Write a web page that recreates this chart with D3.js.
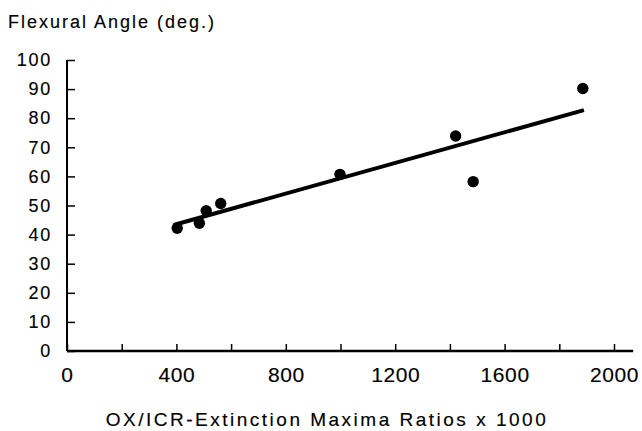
<!DOCTYPE html>
<html>
<head>
<meta charset="utf-8">
<script src="https://cdn.jsdelivr.net/npm/d3@7"></script>
<style>
  body { margin: 0; background: #fff; }
  text { font-family: "Liberation Sans", Arial, sans-serif; fill: #000; stroke: #000; stroke-width: 0.15px; }
</style>
</head>
<body>
<script>
// measured points (ratio x 1000, flexural angle in degrees)
var ratios = [403, 484, 509, 562, 998, 1421, 1485, 1886];
var angles = [42.2, 43.9, 48.2, 50.7, 60.7, 73.9, 58.2, 90.2];

// fitted line, as drawn: start and end
var fitX = [390, 1890];
var fitY = [43.3, 82.8];

var xTicks = [0, 200, 400, 600, 800, 1000, 1200, 1400, 1600, 1800, 2000];
var xLabels = [0, 400, 800, 1200, 1600, 2000];
var yTicks = [0, 10, 20, 30, 40, 50, 60, 70, 80, 90, 100];

var width = 642, height = 431;

var x = d3.scaleLinear().domain([0, 2000]).range([67, 614]);
var y = d3.scaleLinear().domain([0, 100]).range([351, 60]);

var svg = d3.select("body").append("svg")
  .attr("width", width)
  .attr("height", height);

var xAxis = d3.axisBottom(x)
  .tickValues(xTicks)
  .tickSizeInner(-7)
  .tickSizeOuter(0)
  .tickPadding(16)
  .tickFormat(function(d) { return xLabels.indexOf(d) >= 0 ? d : ""; });

var yAxis = d3.axisLeft(y)
  .tickValues(yTicks)
  .tickSizeInner(-8)
  .tickSizeOuter(0)
  .tickPadding(15);

var gx = svg.append("g")
  .attr("transform", "translate(0," + y(0) + ")")
  .call(xAxis);
gx.select(".domain").remove();
gx.selectAll(".tick line").attr("stroke", "#000").attr("stroke-width", 1.5);
gx.selectAll(".tick text")
  .attr("font-size", 21)
  .style("letter-spacing", "0.6px")
  .style("font-family", "'Liberation Sans', Arial, sans-serif");

var gy = svg.append("g")
  .attr("transform", "translate(" + x(0) + ",0)")
  .call(yAxis);
gy.select(".domain").remove();
gy.selectAll(".tick line").attr("stroke", "#000").attr("stroke-width", 1.5);
gy.selectAll(".tick text")
  .attr("font-size", 18)
  .style("letter-spacing", "1.7px")
  .style("font-family", "'Liberation Sans', Arial, sans-serif");

// axis lines
svg.append("line")
  .attr("x1", x(0)).attr("x2", x(2070))
  .attr("y1", y(0)).attr("y2", y(0))
  .attr("stroke", "#000").attr("stroke-width", 2.5);
svg.append("line")
  .attr("x1", x(0)).attr("x2", x(0))
  .attr("y1", y(0)).attr("y2", y(100))
  .attr("stroke", "#000").attr("stroke-width", 2);

// fitted line
svg.append("line")
  .attr("x1", x(fitX[0])).attr("y1", y(fitY[0]))
  .attr("x2", x(fitX[1])).attr("y2", y(fitY[1]))
  .attr("stroke", "#000")
  .attr("stroke-width", 4);

// points
svg.selectAll(".pt")
  .data(ratios)
  .enter().append("circle")
  .attr("class", "pt")
  .attr("cx", function(d) { return x(d); })
  .attr("cy", function(d, i) { return y(angles[i]); })
  .attr("r", 5.7)
  .attr("fill", "#000");

// titles
svg.append("text")
  .attr("x", 8)
  .attr("y", 28)
  .attr("font-size", 18)
  .style("letter-spacing", "2px")
  .text("Flexural Angle (deg.)");

svg.append("text")
  .attr("x", 327)
  .attr("y", 426)
  .attr("text-anchor", "middle")
  .attr("font-size", 19)
  .style("letter-spacing", "2.5px")
  .text("OX/ICR-Extinction Maxima Ratios x 1000");
</script>
</body>
</html>
